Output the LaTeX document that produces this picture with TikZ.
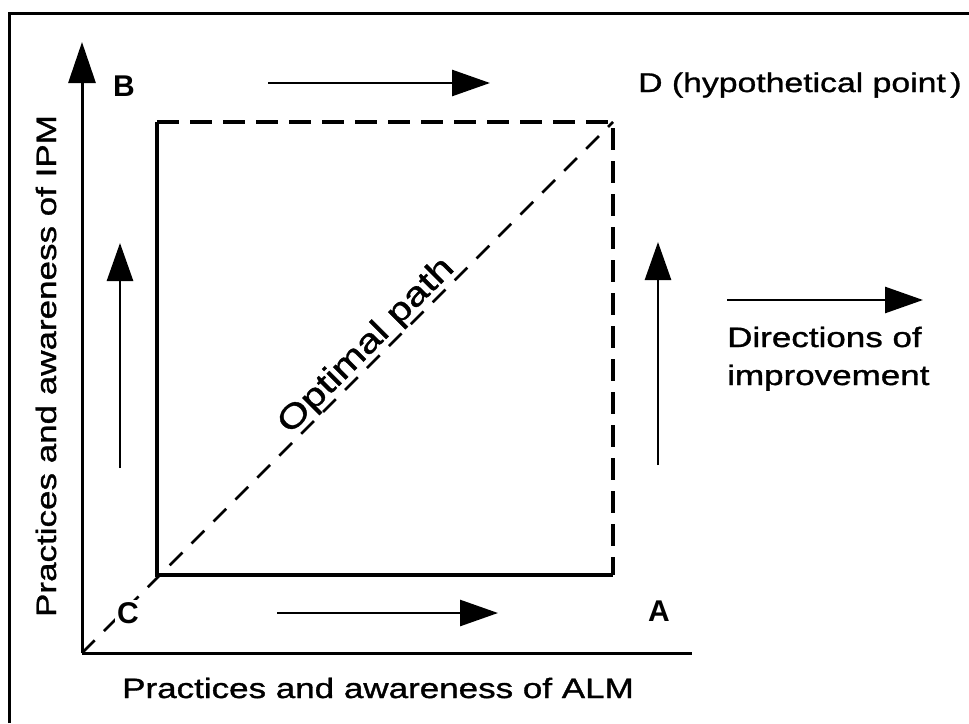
\documentclass[tikz,border=0pt]{standalone}
\usepackage{fontspec}
\setmainfont{Liberation Sans}
\newfontfamily\labfont[FakeStretch=1.25,FakeBold=1.2]{Liberation Sans}
\usetikzlibrary{arrows.meta,calc}
\begin{document}
\begin{tikzpicture}[x=1pt,y=-1pt,
  frame/.style={line width=3pt},
  axis/.style={line width=3pt},
  axisarrow/.style={line width=3pt,-{Triangle[length=41pt,width=27pt]}},
  solidside/.style={line width=4pt},
  dashside/.style={line width=4pt,dash pattern=on 22pt off 11pt},
  diagline/.style={line width=2.5pt,dash pattern=on 18pt off 13pt},
  dirarrow/.style={line width=2.7pt,-{Triangle[length=38pt,width=26pt]}},
  txt/.style={font=\labfont\fontsize{28}{34}\selectfont,inner sep=0pt},
  corner/.style={font=\bfseries\fontsize{30}{34}\selectfont,inner sep=0pt},
]
\useasboundingbox (0,0) rectangle (969,723);
% frame
\coordinate (F1) at (9,723);
\coordinate (F2) at (9,13);
\coordinate (F3) at (969,13);
\draw[frame] (F1) -- (F2) -- (F3);
% axes
\coordinate (O) at (82,653);
\coordinate (Ytip) at (82,42);
\coordinate (Xend) at (692,653);
\draw[axisarrow] (O) -- (Ytip);
\draw[axis] (O) -- (Xend);
% square
\coordinate (SC) at (157,575);
\coordinate (SB) at (157,122);
\coordinate (SD) at (613,122);
\coordinate (SA) at (613,575);
\draw[diagline] (O) -- (SD);
\draw[solidside] (SB) -- (SC) -- (SA);
\draw[dashside] (SB) -- (SD) -- (SA);
% direction arrows
\coordinate (T1) at (268,83);  \coordinate (T2) at (490,83);
\coordinate (Bo1) at (277,613); \coordinate (Bo2) at (498,613);
\coordinate (L1) at (120,468); \coordinate (L2) at (120,243);
\coordinate (R1) at (658,465); \coordinate (R2) at (658,242);
\coordinate (G1) at (727,300); \coordinate (G2) at (923,300);
\draw[dirarrow] (T1) -- (T2);
\draw[dirarrow] (Bo1) -- (Bo2);
\draw[dirarrow] (L1) -- (L2);
\draw[dirarrow] (R1) -- (R2);
\draw[dirarrow] (G1) -- (G2);
% labels
\node[corner] (B) at (124,86) {B};
\node[font=\labfont\fontsize{27}{34}\selectfont,inner sep=0pt,anchor=base west] (Dlab) at (638,92) {D (hypothetical point\,)};
\node[corner,fill=white,inner sep=2pt] (C) at (128,613) {C};
\node[corner] (A) at (659,611) {A};
\node[txt,anchor=base west] (dir1) at (727,347) {Directions of};
\node[txt,anchor=base west] (dir2) at (727,385) {improvement};
\node[txt,anchor=base] (xlab) at (378,698) {Practices and awareness of ALM};
\node[txt,anchor=base,rotate=90] (ylab) at (56,366) {Practices and awareness of IPM};
\coordinate (OPc) at ($(O)!0.557!(SD)+(-5,-5)$);
\node[font=\labfont\fontsize{33}{36}\selectfont,inner sep=0pt,anchor=base,rotate=45] (opt) at (OPc) {Optimal path};
\end{tikzpicture}
\end{document}
